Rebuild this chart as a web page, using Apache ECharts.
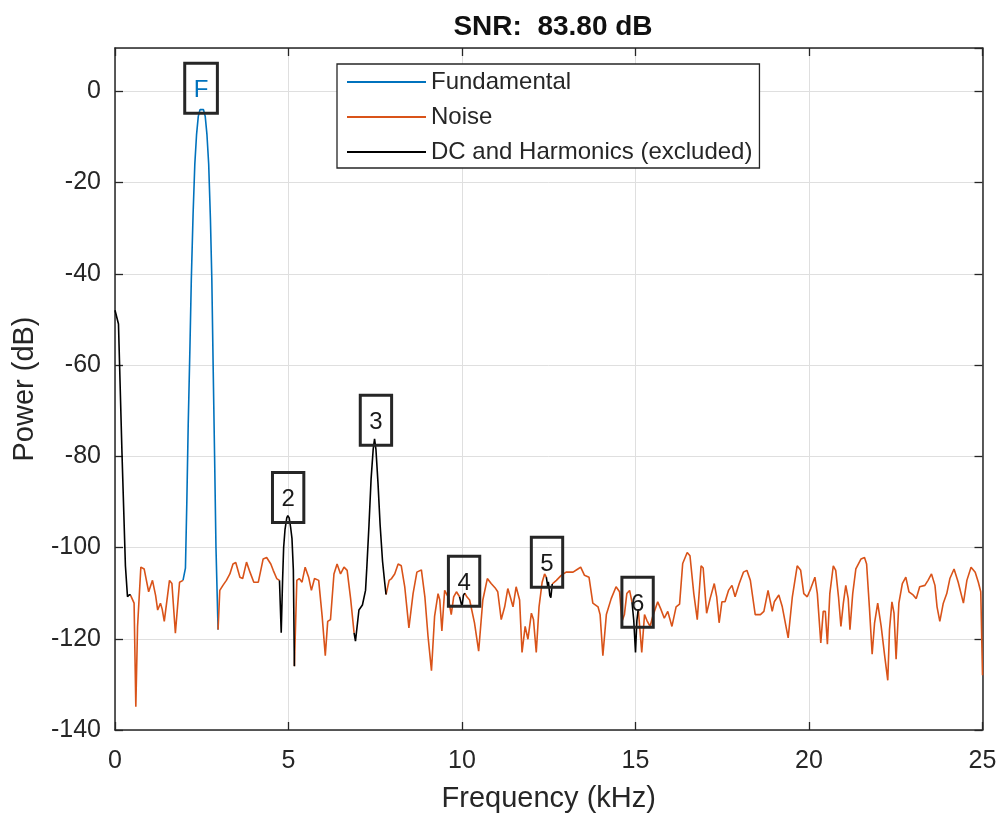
<!DOCTYPE html>
<html>
<head>
<meta charset="utf-8">
<script src="https://cdn.jsdelivr.net/npm/echarts@6/dist/echarts.min.js"></script>
<style>html,body{margin:0;padding:0;background:#fff;}#c{width:1000px;height:818px;}</style>
</head>
<body>
<div id="c"></div>
<script>
// ---- data (frequency in kHz, power in dB) ----
const titleText = 'SNR:  83.80 dB';
const xName = 'Frequency (kHz)';
const yName = 'Power (dB)';
const seriesNames = ['Fundamental', 'Noise', 'DC and Harmonics (excluded)'];
const xTicks = [0, 5, 10, 15, 20, 25];
const yTicks = [-140, -120, -100, -80, -60, -40, -20, 0];

const fundFreq  = [1.96, 2.03, 2.07, 2.11, 2.16, 2.2, 2.25, 2.3, 2.35, 2.4, 2.45, 2.5, 2.55, 2.6, 2.65, 2.7, 2.75, 2.79, 2.83, 2.87, 2.91, 2.97];
const fundPower = [-107.2, -104.5, -90, -73, -56, -41, -27, -16, -9.5, -5.5, -4, -3.6, -4, -5.5, -9.5, -16, -28, -41, -61, -80, -100, -118];

// noise (null = gap where fundamental / DC / harmonics are drawn)
const noiseFreq = [
  0.45, 0.50, 0.55, 0.60, 0.65, 0.745, 0.84, 0.97, 1.08, 1.17, 1.23, 1.31, 1.36, 1.42, 1.57, 1.64, 1.74, 1.86, 1.96, null,
  2.97, 3.02, 3.11, 3.21, 3.31, 3.40, 3.48, 3.60, 3.68, 3.79, 3.89, 4.0, 4.13, 4.27, 4.37, 4.49, 4.56, 4.66, 4.74, null,
  5.17, 5.24, 5.31, 5.39, 5.48, 5.58, 5.66, 5.75, 5.87, 5.97, 6.06, 6.13, 6.21, 6.31, 6.40, 6.50, 6.60, 6.69, 6.79, 6.89, null,
  7.81, 7.90, 7.97, 8.06, 8.16, 8.25, 8.35, 8.47, 8.59, 8.70, 8.83, 8.93, 9.02, 9.12, 9.21, 9.31, 9.36, 9.42, 9.50, 9.60, 9.69, 9.76, 9.84, 9.93, null,
  10.08, 10.14, 10.22, 10.36, 10.48, 10.60, 10.73, 10.84, 10.97, 11.03, 11.13, 11.23, 11.32, 11.39, 11.47, 11.56, 11.66, 11.73, 11.82, 11.90, 12.0, 12.06, 12.14, 12.22, 12.31, 12.38, 12.43, null,
  12.6, 12.72, 12.86, 13.0, 13.2, 13.34, 13.42, 13.53, 13.66, 13.77, 13.92, 13.98, 14.06, 14.16, 14.30, 14.44, 14.54, 14.61, 14.68, 14.75, 14.83, 14.90, null,
  15.08, 15.11, 15.18, 15.26, 15.33, 15.42, 15.5, 15.64, 15.73, 15.83, 15.93, 16.05, 16.17, 16.27, 16.36, 16.49, 16.57, 16.68, 16.78, 16.89, 16.95, 17.05, 17.15, 17.27, 17.34, 17.41, 17.49, 17.58, 17.68, 17.78, 17.87, 17.99, 18.11, 18.21, 18.31, 18.45, 18.6, 18.7, 18.82, 18.94, 19.0, 19.13, 19.23, 19.40, 19.52, 19.66, 19.76, 19.85, 19.95, 20.05, 20.17, 20.24, 20.34, 20.41, 20.47, 20.53, 20.60, 20.70, 20.77, 20.85, 20.92, 20.99, 21.06, 21.13, 21.18, 21.26, 21.35, 21.5, 21.6, 21.66, 21.74, 21.82, 21.89, 21.98, 22.08, 22.18, 22.27, 22.32, 22.39, 22.45, 22.51, 22.59, 22.69, 22.79, 22.88, 23.0, 23.09, 23.19, 23.34, 23.43, 23.53, 23.63, 23.69, 23.77, 23.87, 23.97, 24.06, 24.18, 24.30, 24.45, 24.55, 24.67, 24.79, 24.88, 24.95, 25.0
];
const noisePower = [
  -110.5, -110.8, -112.2, -134.9, -117.3, -104.3, -104.7, -109.7, -107.2, -110.5, -113.7, -112.2, -113.5, -116.2, -107.2, -107.9, -118.8, -107.6, -107.2, null,
  -118, -109.4, -108.3, -107.2, -105.8, -103.6, -103.3, -106.5, -106.8, -103.2, -105.4, -107.6, -107.6, -102.5, -102.2, -103.6, -105, -106.8, -107.2, null,
  -126, -107.2, -106.8, -107.6, -104.3, -106.5, -109.4, -106.8, -107.2, -115.1, -123.7, -116.2, -115.8, -105.8, -103.6, -105.8, -104.3, -105, -111.2, -118.7, null,
  -110.3, -107.2, -106.8, -105.8, -103.6, -104, -108.6, -117.6, -110.1, -105.4, -104.9, -110.8, -119.4, -127, -115.1, -110.1, -111.5, -118.3, -109.4, -110.8, -114.7, -110.8, -109.7, -110.8, null,
  -110, -110.8, -111.5, -116.5, -122.7, -111.5, -106.8, -107.9, -109, -109.7, -115.8, -113, -109, -110.8, -113, -108.6, -111.5, -123, -117.3, -120.1, -114.4, -115.8, -123, -113, -107.6, -105.8, -106.5, null,
  -108, -107.2, -106.1, -105.4, -105.4, -104.7, -104.3, -106.1, -106.5, -112.2, -113, -114.7, -123.7, -114.7, -111.2, -108.6, -109.7, -116.2, -114.7, -110.1, -109.4, -112, null,
  -113.5, -113.7, -123, -114.7, -116, -117.3, -115, -111.9, -113.5, -115.5, -114, -117.3, -113, -112.4, -103.5, -101.1, -101.8, -110.1, -115.8, -104, -104.5, -114.4, -111.2, -107.9, -110.8, -116.5, -111.9, -111.9, -109.4, -108.3, -110.8, -107.9, -105.4, -105, -107.2, -114.7, -114.7, -114, -109.4, -114, -111.9, -110.4, -113, -119.8, -110.8, -104, -105, -110.1, -110.8, -109, -106.5, -110.1, -120.9, -114, -114, -121.2, -110.1, -104, -105, -110.8, -117.3, -112.2, -108.3, -111.2, -118, -110.1, -104.7, -102.5, -102.2, -103.6, -113, -123.4, -116.5, -112.2, -117.3, -123.7, -129.1, -118, -111.9, -114.4, -124.5, -112.2, -107.9, -106.5, -109.7, -110.4, -111.2, -108.6, -108.3, -107.2, -105.8, -108.3, -113, -116.2, -112.2, -110.1, -106.8, -104.7, -107.6, -112.2, -107.2, -104.3, -105.4, -107.6, -109.7, -128
];

// DC and harmonics 2..6 (null = gap between segments)
const harmFreq = [
  0, 0.1, 0.2, 0.3, 0.36, 0.42, 0.45, null,
  4.74, 4.79, 4.83, 4.86, 4.9, 4.95, 4.98, 5.02, 5.06, 5.1, 5.14, 5.17, null,
  6.89, 6.93, 7.03, 7.13, 7.22, 7.26, 7.32, 7.38, 7.44, 7.48, 7.52, 7.58, 7.64, 7.71, 7.77, 7.81, null,
  9.93, 9.97, 10.0, 10.04, 10.08, null,
  12.43, 12.47, 12.49, 12.53, 12.56, 12.6, null,
  14.90, 14.95, 15.0, 15.04, 15.08
];
const harmPower = [
  -48, -51, -79, -104, -110.8, -110.3, -110.5, null,
  -107.2, -118.7, -107, -100, -96, -93.5, -93, -93.5, -95.5, -98, -105, -126, null,
  -118.7, -120.5, -113.7, -112.6, -109.4, -104, -95, -85, -78.5, -76.2, -78.5, -86, -95, -103, -107.5, -110.3, null,
  -110.8, -111, -113, -110.5, -110, null,
  -106.5, -108.5, -107.5, -110.5, -111, -108, null,
  -112, -116, -123, -116, -113.5
];

// peak labels: text, anchor frequency, anchor power (bottom of label box)
const peakLabels = ['F', '2', '3', '4', '5', '6'];
const peakFreq   = [2.48, 4.99, 7.52, 10.06, 12.45, 15.06];
const peakPower  = [-4.9, -94.6, -77.7, -113.0, -108.8, -117.6];

// ---- chart ----
const FONT = '"Liberation Sans", Arial, Helvetica, sans-serif';
const AX = '#262626';
const C_FUND = '#0072BD', C_NOISE = '#D95319', C_HARM = '#000000';

function pairs(fs, ps) {
  return fs.map((f, i) => (f === null ? [null, '-'] : [f, ps[i] === null ? '-' : ps[i]]));
}

const chart = echarts.init(document.getElementById('c'), null, {renderer: 'canvas'});

const baseX = {
  type: 'value', min: xTicks[0], max: xTicks[xTicks.length - 1], interval: 5,
  axisLine: {show: true, onZero: false, lineStyle: {color: AX, width: 1.5}},
  axisTick: {show: true, inside: true, length: 8, lineStyle: {color: AX, width: 1.3}},
};
const baseY = {
  type: 'value', min: yTicks[0], max: 9.5, interval: 20,
  axisLine: {show: true, onZero: false, lineStyle: {color: AX, width: 1.5}},
  axisTick: {show: true, inside: true, length: 8, lineStyle: {color: AX, width: 1.3}},
};

chart.setOption({
  animation: false,
  backgroundColor: '#fff',
  title: {
    text: titleText, left: 548, top: 8, textAlign: 'center',
    textStyle: {fontFamily: FONT, fontSize: 28, fontWeight: 'bold', color: '#111'}
  },
  grid: {left: 115, right: 17.5, top: 48, bottom: 86, containLabel: false},
  legend: {
    data: seriesNames, orient: 'vertical', left: 337, top: 64,
    padding: [6, 7, 4, 10], itemGap: 11, itemWidth: 79, itemHeight: 2, icon: 'rect',
    backgroundColor: '#fff', borderColor: AX, borderWidth: 1.3,
    textStyle: {fontFamily: FONT, fontSize: 24, color: AX, lineHeight: 24},
    selectedMode: false
  },
  xAxis: [
    Object.assign({}, baseX, {
      position: 'bottom', name: xName, nameLocation: 'middle', nameGap: 54,
      nameTextStyle: {fontFamily: FONT, fontSize: 29, color: AX},
      axisLabel: {fontFamily: FONT, fontSize: 25, color: AX, margin: 19},
      splitLine: {show: true, lineStyle: {color: '#dfdfdf', width: 1}}
    }),
    Object.assign({}, baseX, {position: 'top', axisLabel: {show: false}, splitLine: {show: false}})
  ],
  yAxis: [
    Object.assign({}, baseY, {
      position: 'left', name: yName, nameLocation: 'middle', nameGap: 76,
      nameTextStyle: {fontFamily: FONT, fontSize: 29, color: AX},
      axisLabel: {fontFamily: FONT, fontSize: 25, color: AX, margin: 14, showMaxLabel: false,
        formatter: v => (yTicks.indexOf(v) >= 0 ? String(v) : '')},
      splitLine: {show: true, lineStyle: {color: '#dfdfdf', width: 1}}
    }),
    Object.assign({}, baseY, {position: 'right', axisLabel: {show: false}, splitLine: {show: false}})
  ],
  series: [
    {
      name: seriesNames[0], type: 'line', data: pairs(fundFreq, fundPower),
      symbol: 'none', lineStyle: {color: C_FUND, width: 1.6}, itemStyle: {color: C_FUND}, z: 3
    },
    {
      name: seriesNames[1], type: 'line', data: pairs(noiseFreq, noisePower), connectNulls: false,
      symbol: 'none', lineStyle: {color: C_NOISE, width: 1.6}, itemStyle: {color: C_NOISE}, z: 3
    },
    {
      name: seriesNames[2], type: 'line', data: pairs(harmFreq, harmPower), connectNulls: false,
      symbol: 'none', lineStyle: {color: C_HARM, width: 1.6}, itemStyle: {color: C_HARM}, z: 4
    },
    {
      name: 'labels', type: 'scatter', symbol: 'circle', symbolSize: 1, z: 5,
      itemStyle: {color: 'rgba(0,0,0,0)', opacity: 1},
      data: peakLabels.map((t, i) => ({
        value: [peakFreq[i], peakPower[i]],
        label: {color: i === 0 ? C_FUND : '#1a1a1a'}
      })),
      label: {
        show: true, position: 'top', distance: 0,
        formatter: p => peakLabels[p.dataIndex],
        fontFamily: FONT, fontSize: 24, lineHeight: 26,
        padding: [14, 9, 10, 9], borderColor: '#262626', borderWidth: 1.5,
        backgroundColor: 'rgba(255,255,255,0)'
      },
      labelLayout: {hideOverlap: false},
      emphasis: {disabled: true}, silent: true
    }
  ]
});
</script>
</body>
</html>
